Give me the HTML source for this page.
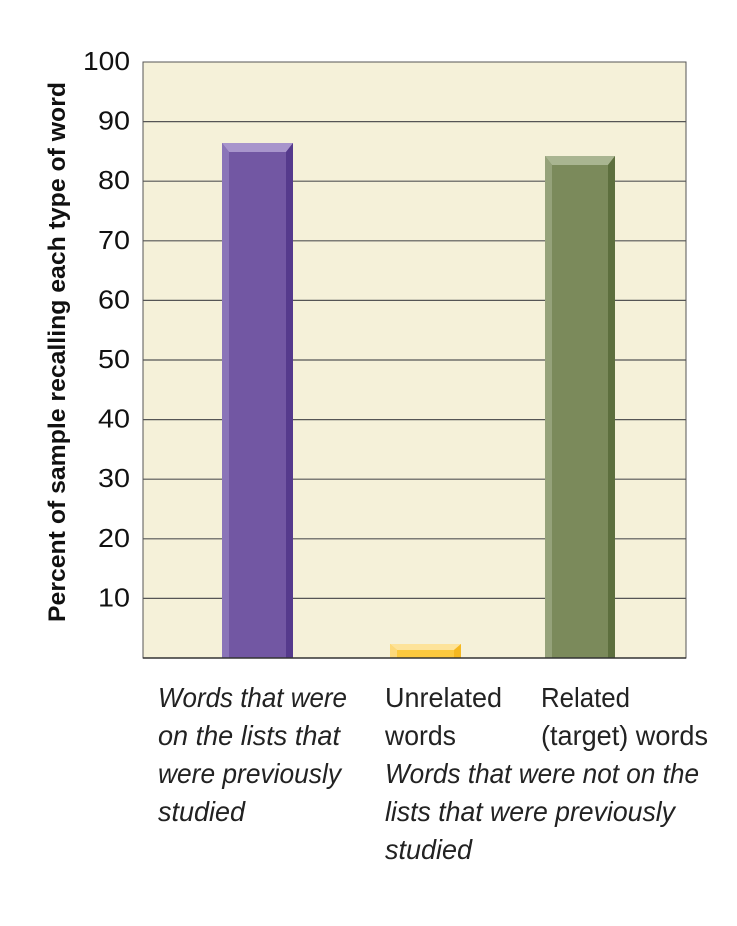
<!DOCTYPE html>
<html><head><style>
body{margin:0;background:#fff;width:737px;height:926px;overflow:hidden}
svg{display:block}
text{font-family:"Liberation Sans",sans-serif}
</style></head><body>
<svg width="737" height="926" viewBox="0 0 737 926">
<rect x="143" y="62" width="543" height="596" fill="#f5f1d9" stroke="#555" stroke-width="1"/>
<g stroke="#555" stroke-width="1.2">
<line x1="143" x2="686" y1="121.6" y2="121.6"/>
<line x1="143" x2="686" y1="181.2" y2="181.2"/>
<line x1="143" x2="686" y1="240.8" y2="240.8"/>
<line x1="143" x2="686" y1="300.4" y2="300.4"/>
<line x1="143" x2="686" y1="360" y2="360"/>
<line x1="143" x2="686" y1="419.6" y2="419.6"/>
<line x1="143" x2="686" y1="479.2" y2="479.2"/>
<line x1="143" x2="686" y1="538.8" y2="538.8"/>
<line x1="143" x2="686" y1="598.4" y2="598.4"/>
</g>
<rect x="222" y="143" width="71" height="515" fill="#7257a3"/>
<polygon points="222,143 293,143 286,152 229,152" fill="#a895cc"/>
<polygon points="222,143 229,152 229,658 222,658" fill="#8a74b8"/>
<polygon points="293,143 286,152 286,658 293,658" fill="#553a8c"/>
<rect x="390" y="644" width="71" height="14" fill="#fcc93e"/>
<polygon points="390,644 461,644 454,650 397,650" fill="#fde39a"/>
<polygon points="390,644 397,650 397,658 390,658" fill="#fdd97a"/>
<polygon points="461,644 454,650 454,658 461,658" fill="#f5b820"/>
<rect x="545" y="156" width="70" height="502" fill="#7b8a5b"/>
<polygon points="545,156 615,156 608,165 552,165" fill="#a9b591"/>
<polygon points="545,156 552,165 552,658 545,658" fill="#95a27a"/>
<polygon points="615,156 608,165 608,658 615,658" fill="#5d6f3e"/>
<line x1="143" x2="686" y1="658" y2="658" stroke="#333" stroke-width="1.5"/>
<g font-size="26" fill="#111" text-anchor="end">
<text x="130" y="70" textLength="47" lengthAdjust="spacingAndGlyphs">100</text>
<text x="130" y="129.6" textLength="32" lengthAdjust="spacingAndGlyphs">90</text>
<text x="130" y="189.2" textLength="32" lengthAdjust="spacingAndGlyphs">80</text>
<text x="130" y="248.8" textLength="32" lengthAdjust="spacingAndGlyphs">70</text>
<text x="130" y="308.4" textLength="32" lengthAdjust="spacingAndGlyphs">60</text>
<text x="130" y="368" textLength="32" lengthAdjust="spacingAndGlyphs">50</text>
<text x="130" y="427.6" textLength="32" lengthAdjust="spacingAndGlyphs">40</text>
<text x="130" y="487.2" textLength="32" lengthAdjust="spacingAndGlyphs">30</text>
<text x="130" y="546.8" textLength="32" lengthAdjust="spacingAndGlyphs">20</text>
<text x="130" y="606.4" textLength="32" lengthAdjust="spacingAndGlyphs">10</text>
</g>
<text transform="translate(65,352) rotate(-90)" text-anchor="middle" font-size="24" font-weight="bold" fill="#111" textLength="540" lengthAdjust="spacingAndGlyphs">Percent of sample recalling each type of word</text>
<g font-size="28" fill="#222" font-style="italic">
<text x="158" y="707" textLength="189" lengthAdjust="spacingAndGlyphs">Words that were</text>
<text x="158" y="745" textLength="182" lengthAdjust="spacingAndGlyphs">on the lists that</text>
<text x="158" y="783" textLength="183" lengthAdjust="spacingAndGlyphs">were previously</text>
<text x="158" y="821" textLength="87" lengthAdjust="spacingAndGlyphs">studied</text>
<text x="385" y="783" textLength="314" lengthAdjust="spacingAndGlyphs">Words that were not on the</text>
<text x="385" y="821" textLength="290" lengthAdjust="spacingAndGlyphs">lists that were previously</text>
<text x="385" y="859" textLength="87" lengthAdjust="spacingAndGlyphs">studied</text>
</g>
<g font-size="28" fill="#222">
<text x="385" y="707" textLength="117" lengthAdjust="spacingAndGlyphs">Unrelated</text>
<text x="385" y="745" textLength="71" lengthAdjust="spacingAndGlyphs">words</text>
<text x="541" y="707" textLength="89" lengthAdjust="spacingAndGlyphs">Related</text>
<text x="541" y="745" textLength="167" lengthAdjust="spacingAndGlyphs">(target) words</text>
</g>
</svg>
</body></html>
